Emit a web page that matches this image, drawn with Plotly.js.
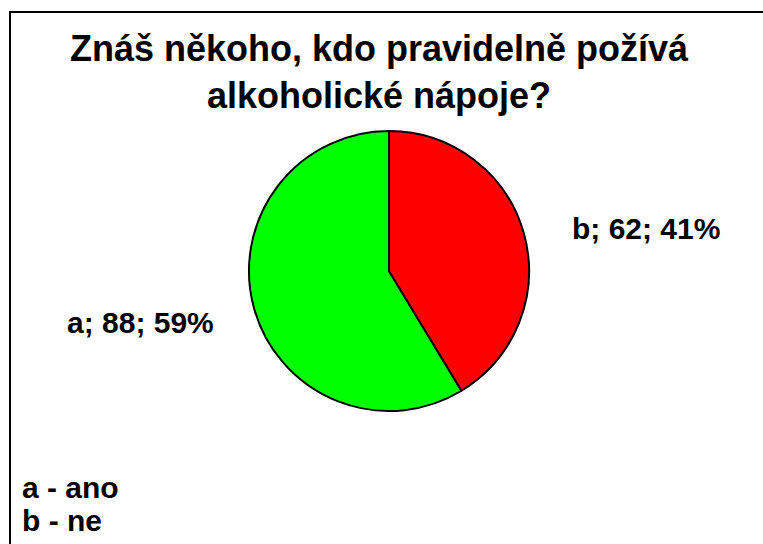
<!DOCTYPE html>
<html>
<head>
<meta charset="utf-8">
<script src="https://cdn.plot.ly/plotly-3.0.1.min.js"></script>
<style>html,body{margin:0;padding:0;background:#fff;}#chart{width:763px;height:544px;}</style>
</head>
<body>
<div id="chart"></div>
<script>
const categories = ['a', 'b'];
const meanings = ['ano', 'ne'];
const values = [88, 62];
const colors = ['#00FF00', '#FF0000'];
const titleText = 'Znáš někoho, kdo pravidelně požívá<br>alkoholické nápoje?';

const total = values.reduce((s, v) => s + v, 0);
const W = 763, H = 544;
const font = 'Liberation Sans, Arial, sans-serif';

const labelPos = [ {x: 140, y: 322}, {x: 646, y: 228} ];
const annotations = categories.map((c, i) => ({
  text: '<b>' + c + '; ' + values[i] + '; ' + Math.round(values[i] / total * 100) + '%</b>',
  xref: 'paper', yref: 'paper',
  x: labelPos[i].x / W, y: 1 - labelPos[i].y / H,
  xanchor: 'center', yanchor: 'middle', showarrow: false,
  font: {family: font, size: 30, color: '#000'}
}));
const legendY = [487, 520];
categories.forEach((c, i) => {
  annotations.push({
    text: '<b>' + c + ' - ' + meanings[i] + '</b>',
    xref: 'paper', yref: 'paper',
    x: 20 / W, y: 1 - legendY[i] / H,
    xanchor: 'left', yanchor: 'middle', showarrow: false,
    font: {family: font, size: 30, color: '#000'}
  });
});

const trace = {
  type: 'pie',
  labels: categories,
  values: values,
  sort: false,
  direction: 'clockwise',
  rotation: values[1] / total * 360,
  marker: {colors: colors, line: {color: '#000', width: 2}},
  textinfo: 'none',
  hoverinfo: 'none',
  showlegend: false,
  domain: {x: [249 / W, 529 / W], y: [1 - 411 / H, 1 - 131 / H]}
};

const layout = {
  width: W, height: H,
  margin: {l: 0, r: 0, t: 0, b: 0},
  paper_bgcolor: '#fff',
  plot_bgcolor: '#fff',
  showlegend: false,
  title: {
    text: '<b>' + titleText + '</b>',
    x: 379 / W, xanchor: 'center',
    y: 1 - 61 / H, yanchor: 'top',
    font: {family: font, size: 36, color: '#000'}
  },
  annotations: annotations,
  shapes: [{
    type: 'rect', xref: 'paper', yref: 'paper',
    x0: 10 / W, x1: 1.1, y0: -0.1, y1: 1 - 12 / H,
    line: {color: '#000', width: 2}, fillcolor: 'rgba(0,0,0,0)'
  }]
};

Plotly.newPlot('chart', [trace], layout, {staticPlot: true});
</script>
</body>
</html>
